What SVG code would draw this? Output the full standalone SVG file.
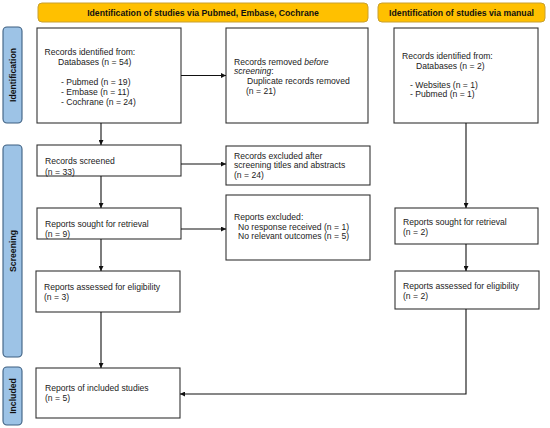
<svg xmlns="http://www.w3.org/2000/svg" width="550" height="428" viewBox="0 0 550 428">
<style>
.box{fill:#fff;stroke:#333;stroke-width:1.1}
.hdr{fill:#FFC000;stroke:#C8A030;stroke-width:1}
.side{fill:#9DC3E6;stroke:#3D5F80;stroke-width:1.1}
text{font-family:"Liberation Sans",Arial,sans-serif;font-size:8.6px;fill:#222}
.b{font-weight:bold;font-size:8.7px;fill:#111}
.sl{font-weight:bold;font-size:8.7px;fill:#111}
.con{stroke:#111;stroke-width:1.1;fill:none}
</style>
<defs>
<marker id="ah" viewBox="0 0 10 10" refX="10" refY="5" markerWidth="5" markerHeight="5" orient="auto" markerUnits="userSpaceOnUse">
<path d="M0,0 L10,5 L0,10 z" fill="#111"/>
</marker>
</defs>
<rect width="550" height="428" fill="#fff"/>
<g id="header-db"><rect class="hdr" x="38" y="3" width="330" height="19" rx="4"/><text class="b" x="203" y="15.5" text-anchor="middle">Identification of studies via Pubmed, Embase, Cochrane</text></g>
<g id="header-manual"><rect class="hdr" x="378" y="3" width="167" height="19" rx="4"/><text class="b" x="461.5" y="15.5" text-anchor="middle">Identification of studies via manual</text></g>
<g id="side-identification"><rect class="side" x="3" y="27" width="19" height="96" rx="4"/><text class="sl" transform="translate(16,75) rotate(-90)" text-anchor="middle">Identification</text></g>
<g id="side-screening"><rect class="side" x="3" y="145" width="19" height="212" rx="4"/><text class="sl" transform="translate(16,251) rotate(-90)" text-anchor="middle">Screening</text></g>
<g id="side-included"><rect class="side" x="3" y="367" width="19" height="58" rx="4"/><text class="sl" transform="translate(16,396) rotate(-90)" text-anchor="middle">Included</text></g>
<g id="records-identified"><rect class="box" x="37" y="28" width="144" height="95"/>
<text x="44.5" y="55">Records identified from:</text><text x="58" y="65">Databases (n = 54)</text>
<text x="61" y="85">- Pubmed (n = 19)</text><text x="61" y="95">- Embase (n = 11)</text><text x="61" y="105">- Cochrane (n = 24)</text></g>
<g id="records-removed"><rect class="box" x="226" y="28" width="142" height="95"/>
<text x="234" y="64.5">Records removed <tspan font-style="italic">before</tspan></text><text x="234" y="74"><tspan font-style="italic">screening</tspan>:</text>
<text x="247" y="84">Duplicate records removed</text><text x="246" y="93.5">(n = 21)</text></g>
<g id="manual-identified"><rect class="box" x="394" y="28" width="144" height="95"/>
<text x="402" y="59">Records identified from:</text><text x="416" y="68.5">Databases (n = 2)</text>
<text x="410" y="87.5">- Websites (n = 1)</text><text x="410" y="97">- Pubmed (n = 1)</text></g>
<g id="records-screened"><rect class="box" x="37" y="145" width="144" height="31"/><text x="45" y="164">Records screened</text><text x="45" y="175">(n = 33)</text></g>
<g id="records-excluded"><rect class="box" x="226" y="146" width="144" height="39"/><text x="234" y="158.5">Records excluded after</text><text x="234" y="168">screening titles and abstracts</text><text x="234" y="177.5">(n = 24)</text></g>
<g id="reports-sought"><rect class="box" x="37" y="208" width="144" height="31"/><text x="45" y="226.5">Reports sought for retrieval</text><text x="45" y="236.5">(n = 9)</text></g>
<g id="reports-excluded"><rect class="box" x="226" y="195" width="144" height="65"/><text x="234" y="220">Reports excluded:</text><text x="238" y="229.5">No response received (n = 1)</text><text x="238" y="239">No relevant outcomes (n = 5)</text></g>
<g id="reports-assessed"><rect class="box" x="36" y="271" width="144" height="41"/><text x="44" y="290">Reports assessed for eligibility</text><text x="44" y="300">(n = 3)</text></g>
<g id="manual-sought"><rect class="box" x="395" y="208" width="143" height="36"/><text x="403" y="225">Reports sought for retrieval</text><text x="403" y="234.5">(n = 2)</text></g>
<g id="manual-assessed"><rect class="box" x="395" y="271" width="144" height="38"/><text x="403" y="289">Reports assessed for eligibility</text><text x="403" y="298.5">(n = 2)</text></g>
<g id="included"><rect class="box" x="36" y="368" width="144" height="50"/><text x="45" y="391">Reports of included studies</text><text x="45" y="401">(n = 5)</text></g>
<g id="connectors">
<line class="con" x1="101" y1="123" x2="101" y2="145" marker-end="url(#ah)"/>
<line class="con" x1="181" y1="75.5" x2="226" y2="75.5" marker-end="url(#ah)"/>
<line class="con" x1="101" y1="176" x2="101" y2="208" marker-end="url(#ah)"/>
<line class="con" x1="181" y1="164" x2="226" y2="164" marker-end="url(#ah)"/>
<line class="con" x1="101" y1="239" x2="101" y2="271" marker-end="url(#ah)"/>
<line class="con" x1="181" y1="229" x2="226" y2="229" marker-end="url(#ah)"/>
<line class="con" x1="101" y1="312" x2="101" y2="368" marker-end="url(#ah)"/>
<line class="con" x1="466" y1="123" x2="466" y2="208" marker-end="url(#ah)"/>
<line class="con" x1="466" y1="244" x2="466" y2="271" marker-end="url(#ah)"/>
<polyline class="con" points="466,309 466,394 180,394" marker-end="url(#ah)"/>
</g>
</svg>
